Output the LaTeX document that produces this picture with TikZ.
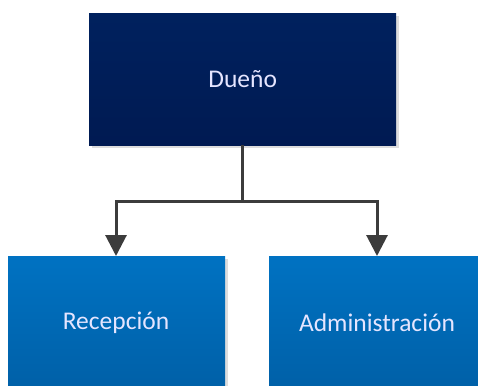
\documentclass[tikz,border=0pt]{standalone}
\usepackage{fontspec}
\setmainfont{Carlito}
\usetikzlibrary{arrows.meta,shadows}
\definecolor{navyA}{HTML}{00215E}
\definecolor{navyB}{HTML}{001A52}
\definecolor{blueA}{HTML}{0072C2}
\definecolor{blueB}{HTML}{005FA6}
\definecolor{linec}{HTML}{3C3C3C}
\tikzset{
  lbl/.style={font=\fontsize{25.5}{30}\selectfont, text=white!90!blue},
  box/.style={draw=none, minimum width=#1, inner sep=0pt, anchor=north west, lbl,
    drop shadow={shadow xshift=3pt, shadow yshift=-3pt, fill=black!22, opacity=0.6}},
  topbox/.style={box=307pt, minimum height=132pt, top color=navyA, bottom color=navyB},
  subbox/.style={box=217pt, minimum height=140pt, top color=blueA, bottom color=blueB},
  conn/.style={draw=linec, line width=3pt, -{Triangle[length=21pt,width=21pt]}}
}
\begin{document}
\begin{tikzpicture}[x=1pt,y=-1pt]
\useasboundingbox (0,0) rectangle (478,385);
\begin{scope}
\clip (0,0) rectangle (478,385);
\node[topbox] (d) at (89,13) {Dueño};
\node[subbox] (r) at (8,256) {};
\node[subbox, minimum width=215pt] (a) at (269,256) {};
\end{scope}
\node[lbl] (rt) at (116,323) {Recepción};
\node[lbl] (at) at (377,323) {Administración};
\coordinate (j) at (242,201);
\draw[conn] (d.south -| j) |- (116,201) -- (116,256);
\draw[conn] (j) -| (377,256);
\end{tikzpicture}
\end{document}
